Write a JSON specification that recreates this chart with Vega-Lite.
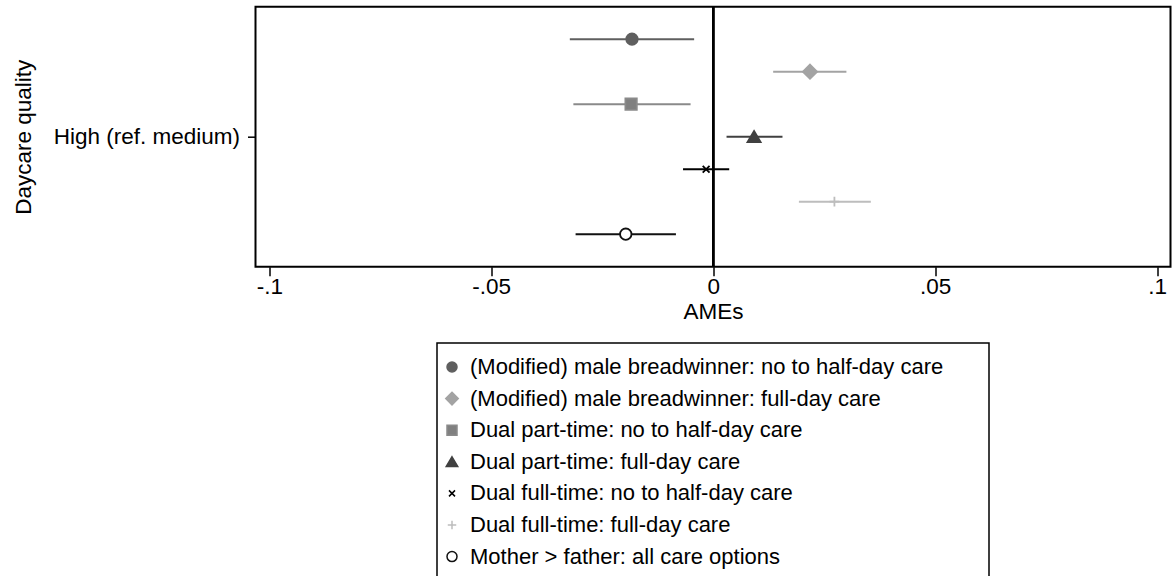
{
  "$schema": "https://vega.github.io/schema/vega-lite/v6.json",
  "width": 915,
  "height": 260,
  "autosize": {"type": "none"},
  "padding": {"left": 255.5, "top": 6.7, "right": 4.5, "bottom": 309.3},
  "background": "white",
  "config": {
    "font": "Liberation Sans",
    "view": {"stroke": "black", "strokeWidth": 2},
    "axis": {
      "labelFont": "Liberation Sans", "labelFontSize": 22.5, "labelColor": "black",
      "titleFont": "Liberation Sans", "titleFontSize": 22.5, "titleFontWeight": "normal", "titleColor": "black",
      "tickColor": "black", "tickWidth": 1.5, "tickSize": 9, "domain": false, "grid": false
    },
    "legend": {
      "labelFont": "Liberation Sans", "labelFontSize": 22, "labelColor": "black", "labelLimit": 900,
      "orient": "none", "legendX": 181.5, "legendY": 336.3, "direction": "vertical",
      "fillColor": "white", "strokeColor": "black", "strokeWidth": 1.5, "padding": 13, "rowPadding": 9.6,
      "symbolOffset": -9, "labelOffset": 7,
      "symbolSize": 100
    }
  },
  "data": {"values": [
    {"quality": "High (ref. medium)", "series": "(Modified) male breadwinner: no to half-day care", "ame": -0.0183, "lo": -0.0323, "hi": -0.0043},
    {"quality": "High (ref. medium)", "series": "(Modified) male breadwinner: full-day care", "ame": 0.0218, "lo": 0.0135, "hi": 0.0300},
    {"quality": "High (ref. medium)", "series": "Dual part-time: no to half-day care", "ame": -0.0185, "lo": -0.0315, "hi": -0.0051},
    {"quality": "High (ref. medium)", "series": "Dual part-time: full-day care", "ame": 0.0092, "lo": 0.0030, "hi": 0.0156},
    {"quality": "High (ref. medium)", "series": "Dual full-time: no to half-day care", "ame": -0.0016, "lo": -0.0068, "hi": 0.0036},
    {"quality": "High (ref. medium)", "series": "Dual full-time: full-day care", "ame": 0.0273, "lo": 0.0193, "hi": 0.0355},
    {"quality": "High (ref. medium)", "series": "Mother > father: all care options", "ame": -0.0197, "lo": -0.0310, "hi": -0.0084}
  ]},
  "encoding": {
    "y": {"field": "quality", "type": "nominal", "scale": {"paddingInner": 0, "paddingOuter": 0},
      "axis": {"title": "Daycare quality", "tickSize": 8, "labelPadding": 8, "titlePadding": 20, "labelLimit": 400}},
    "yOffset": {"field": "series", "type": "nominal",
      "scale": {"type": "point", "padding": 1, "domain": [
        "(Modified) male breadwinner: no to half-day care",
        "(Modified) male breadwinner: full-day care",
        "Dual part-time: no to half-day care",
        "Dual part-time: full-day care",
        "Dual full-time: no to half-day care",
        "Dual full-time: full-day care",
        "Mother > father: all care options"]}},
    "stroke": {"field": "series", "type": "nominal",
      "scale": {"domain": [
        "(Modified) male breadwinner: no to half-day care",
        "(Modified) male breadwinner: full-day care",
        "Dual part-time: no to half-day care",
        "Dual part-time: full-day care",
        "Dual full-time: no to half-day care",
        "Dual full-time: full-day care",
        "Mother > father: all care options"],
        "range": ["#5f5f5f", "#a3a3a3", "#8a8a8a", "#404040", "#000000", "#bdbdbd", "#111111"]},
      "legend": {"title": null, "labelExpr": "datum.label + '\u2800\u2800'"}}
  },
  "layer": [
    {
      "mark": {"type": "rule", "color": "black", "strokeWidth": 2},
      "encoding": {"x": {"datum": 0, "type": "quantitative"}, "y": null, "yOffset": null, "stroke": null}
    },
    {
      "mark": {"type": "rule", "strokeWidth": 2},
      "encoding": {
        "x": {"field": "lo", "type": "quantitative",
          "scale": {"domain": [-0.1031, 0.1030], "nice": false, "zero": false},
          "axis": {"title": "AMEs", "values": [-0.1, -0.05, 0, 0.05, 0.1],
            "labelExpr": "replace(toString(datum.value), '0.', '.')",
            "labelFlush": false, "labelOverlap": false, "labelPadding": 0, "titlePadding": 2}},
        "x2": {"field": "hi"}
      }
    },
    {
      "mark": {"type": "point", "size": 130, "strokeWidth": 1.8, "opacity": 1, "fillOpacity": 1, "strokeOpacity": 1},
      "encoding": {
        "x": {"field": "ame", "type": "quantitative"},
        "fill": {"field": "series", "type": "nominal",
          "scale": {"domain": [
            "(Modified) male breadwinner: no to half-day care",
            "(Modified) male breadwinner: full-day care",
            "Dual part-time: no to half-day care",
            "Dual part-time: full-day care",
            "Dual full-time: no to half-day care",
            "Dual full-time: full-day care",
            "Mother > father: all care options"],
            "range": ["#5f5f5f", "#a3a3a3", "#808080", "#404040", "transparent", "transparent", "#ffffff"]},
          "legend": {"title": null, "labelExpr": "datum.label + '\u2800\u2800'"}},
        "shape": {"field": "series", "type": "nominal",
          "scale": {"domain": [
            "(Modified) male breadwinner: no to half-day care",
            "(Modified) male breadwinner: full-day care",
            "Dual part-time: no to half-day care",
            "Dual part-time: full-day care",
            "Dual full-time: no to half-day care",
            "Dual full-time: full-day care",
            "Mother > father: all care options"],
            "range": ["circle", "M0,-1.25L1.25,0L0,1.25L-1.25,0Z", "square", "M0,-1L1.15,0.95L-1.15,0.95Z", "M-0.6,-0.6L0.6,0.6M-0.6,0.6L0.6,-0.6", "M-0.85,0L0.85,0M0,-0.85L0,0.85", "circle"]},
          "legend": {"title": null, "labelExpr": "datum.label + '\u2800\u2800'"}}
      }
    }
  ]
}
